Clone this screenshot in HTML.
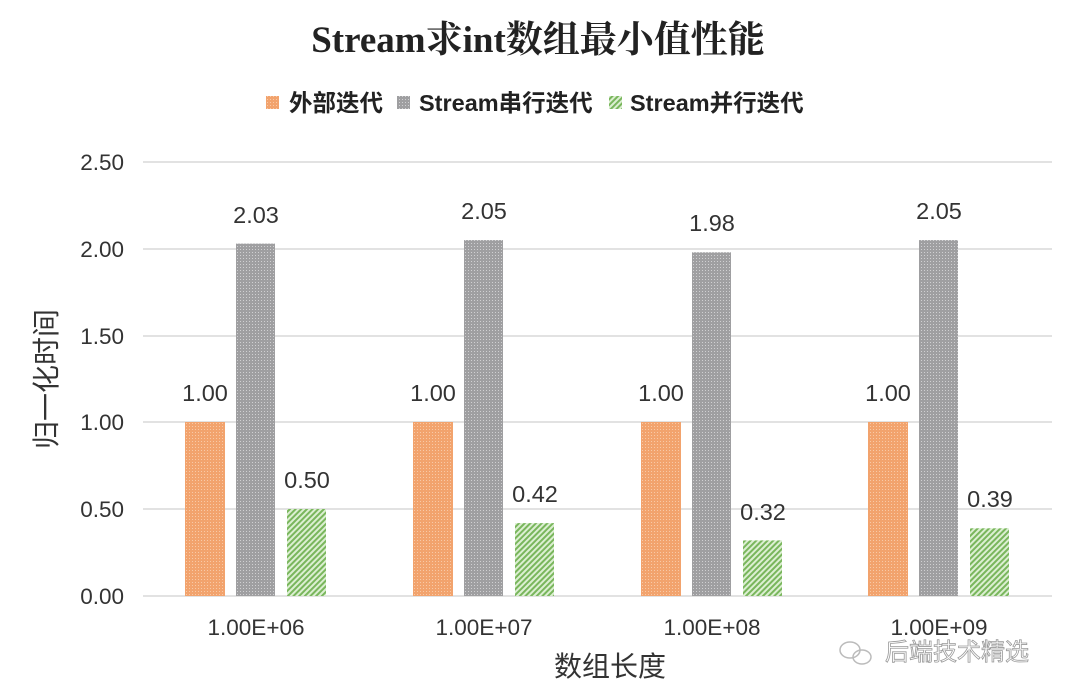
<!DOCTYPE html>
<html><head><meta charset="utf-8"><style>
html,body{margin:0;padding:0;background:#fff;}
svg{display:block;}
text{font-family:"Liberation Sans","Noto Sans CJK SC",sans-serif;}
</style></head><body>
<svg width="1080" height="698" viewBox="0 0 1080 698" xmlns="http://www.w3.org/2000/svg">
<defs>
<pattern id="po" width="3" height="3" patternUnits="userSpaceOnUse"><rect width="3" height="3" fill="#f2a36d"/><rect width="1" height="1" fill="#f8c9a6"/></pattern>
<pattern id="pg" width="3" height="3" patternUnits="userSpaceOnUse"><rect width="3" height="3" fill="#9f9fa1"/><rect width="1" height="1" fill="#d0d0d2"/></pattern>
<pattern id="pn" width="4" height="4" patternUnits="userSpaceOnUse" patternTransform="rotate(45)"><rect width="4" height="4" fill="#dcefd2"/><rect width="2" height="4" fill="#79b65c"/></pattern>
</defs>
<text x="538" y="52" text-anchor="middle" font-size="37" font-weight="bold" fill="#222" style="font-family:'Liberation Serif','Noto Serif CJK SC',serif">Stream求int数组最小值性能</text>
<rect x="266" y="96" width="13" height="13" fill="url(#po)"/>
<text x="289" y="111" font-size="23.5" font-weight="bold" fill="#222">外部迭代</text>
<rect x="397" y="96" width="13" height="13" fill="url(#pg)"/>
<text x="419" y="111" font-size="23.5" font-weight="bold" fill="#222">Stream串行迭代</text>
<rect x="609" y="96" width="13" height="13" fill="url(#pn)"/>
<text x="630" y="111" font-size="23.5" font-weight="bold" fill="#222">Stream并行迭代</text>
<g stroke="#d9d9d9" stroke-width="1.5">
<line x1="143" x2="1052" y1="162" y2="162"/><line x1="143" x2="1052" y1="249" y2="249"/>
<line x1="143" x2="1052" y1="336" y2="336"/><line x1="143" x2="1052" y1="422" y2="422"/>
<line x1="143" x2="1052" y1="509" y2="509"/><line x1="143" x2="1052" y1="596" y2="596"/>
</g>
<g font-size="22.5" fill="#333" text-anchor="end">
<text x="124" y="170">2.50</text><text x="124" y="257">2.00</text><text x="124" y="344">1.50</text>
<text x="124" y="430">1.00</text><text x="124" y="517">0.50</text><text x="124" y="604">0.00</text>
</g>
<text transform="translate(56,379) rotate(-90)" text-anchor="middle" font-size="28" fill="#333">归一化时间</text>
<g>
<rect x="185" y="422" width="40" height="174" fill="url(#po)"/>
<rect x="236" y="243.6" width="39" height="352.4" fill="url(#pg)"/>
<rect x="287" y="509" width="39" height="87" fill="url(#pn)"/>
<rect x="413" y="422" width="40" height="174" fill="url(#po)"/>
<rect x="464" y="240.1" width="39" height="355.9" fill="url(#pg)"/>
<rect x="515" y="523.1" width="39" height="72.9" fill="url(#pn)"/>
<rect x="641" y="422" width="40" height="174" fill="url(#po)"/>
<rect x="692" y="252.3" width="39" height="343.7" fill="url(#pg)"/>
<rect x="743" y="540.4" width="39" height="55.6" fill="url(#pn)"/>
<rect x="868" y="422" width="40" height="174" fill="url(#po)"/>
<rect x="919" y="240.1" width="39" height="355.9" fill="url(#pg)"/>
<rect x="970" y="528.3" width="39" height="67.7" fill="url(#pn)"/>
</g>
<g font-size="23.5" fill="#333" text-anchor="middle">
<text x="205" y="401">1.00</text><text x="256" y="223">2.03</text><text x="307" y="488">0.50</text>
<text x="433" y="401">1.00</text><text x="484" y="219">2.05</text><text x="535" y="502">0.42</text>
<text x="661" y="401">1.00</text><text x="712" y="231">1.98</text><text x="763" y="520">0.32</text>
<text x="888" y="401">1.00</text><text x="939" y="219">2.05</text><text x="990" y="507">0.39</text>
</g>
<g font-size="22.5" fill="#333" text-anchor="middle">
<text x="256" y="635">1.00E+06</text><text x="484" y="635">1.00E+07</text>
<text x="712" y="635">1.00E+08</text><text x="939" y="635">1.00E+09</text>
</g>
<text x="610" y="676" text-anchor="middle" font-size="28" fill="#333">数组长度</text>
<g fill="none" stroke="#bbb" stroke-width="1.5">
<ellipse cx="850" cy="650" rx="10" ry="8"/><ellipse cx="862" cy="657" rx="9" ry="7"/>
</g>
<text x="885" y="660" font-size="24" fill="#fff" stroke="#999" stroke-width="0.8">后端技术精选</text>
</svg>
</body></html>
